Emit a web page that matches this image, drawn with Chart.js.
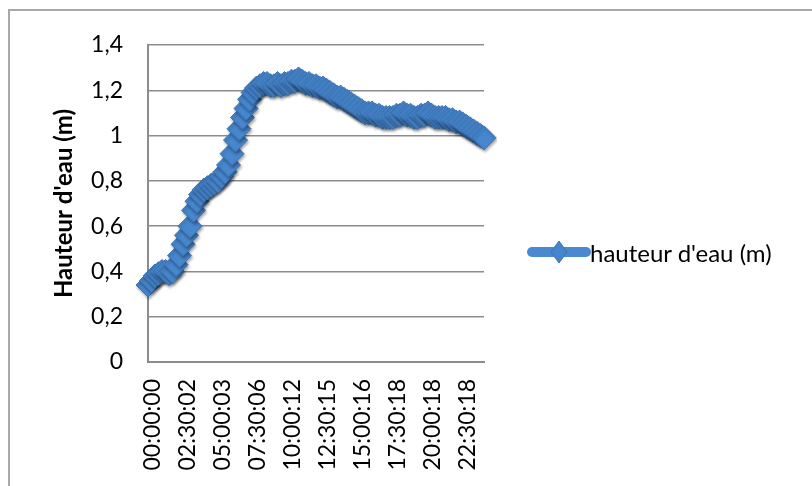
<!DOCTYPE html>
<html>
<head>
<meta charset="utf-8">
<script src="https://cdn.jsdelivr.net/npm/chart.js@4/dist/chart.umd.min.js"></script>
<style>
  html, body { margin: 0; padding: 0; width: 812px; height: 486px; overflow: hidden; background: #fff; }
  #frame { position: absolute; left: 8px; top: 9px; width: 900px; height: 600px; border: 2px solid #a9a9a9; box-sizing: border-box; }
  #wrap { position: absolute; left: 0; top: 0; width: 812px; height: 486px; }
  #legend { position: absolute; left: 522px; top: 236px; height: 32px; display: flex; align-items: center; font-family: Lato, "Open Sans", sans-serif; font-size: 24px; color: #000; white-space: nowrap; }
  #legend svg { display: block; margin-right: -2px; }
</style>
</head>
<body>
<div id="frame"></div>
<div id="wrap"><canvas id="c" width="812" height="486"></canvas></div>
<div id="legend">
  <svg width="70" height="32" viewBox="0 0 70 32">
    <line x1="10" y1="16" x2="64" y2="16" stroke="#4A89D0" stroke-width="10" stroke-linecap="round"/>
    <polygon points="37,5 45,16 37,27 29,16" fill="#4585CC" stroke="#3C72B4" stroke-width="1"/>
  </svg>
  <span>hauteur d'eau (m)</span>
</div>
<script>
const seriesName = "hauteur d'eau (m)";
const yAxisTitle = "Hauteur d'eau (m)";
const timeLabels = [
  "00:00:00","00:15:00","00:30:00","00:45:01","01:00:01","01:15:01","01:30:01","01:45:02","02:00:02","02:15:02",
  "02:30:02","02:45:02","03:00:02","03:15:02","03:30:02","03:45:03","04:00:03","04:15:03","04:30:03","04:45:03",
  "05:00:03","05:15:03","05:30:04","05:45:04","06:00:04","06:15:04","06:30:05","06:45:05","07:00:05","07:15:06",
  "07:30:06","07:45:06","08:00:07","08:15:07","08:30:08","08:45:08","09:00:09","09:15:10","09:30:10","09:45:11",
  "10:00:12","10:15:12","10:30:12","10:45:13","11:00:13","11:15:13","11:30:14","11:45:14","12:00:14","12:15:15",
  "12:30:15","12:45:15","13:00:15","13:15:15","13:30:15","13:45:16","14:00:16","14:15:16","14:30:16","14:45:16",
  "15:00:16","15:15:16","15:30:17","15:45:17","16:00:17","16:15:17","16:30:17","16:45:17","17:00:18","17:15:18",
  "17:30:18","17:45:18","18:00:18","18:15:18","18:30:18","18:45:18","19:00:18","19:15:18","19:30:18","19:45:18",
  "20:00:18","20:15:18","20:30:18","20:45:18","21:00:18","21:15:18","21:30:18","21:45:18","22:00:18","22:15:18",
  "22:30:18","22:45:18","23:00:18","23:15:18","23:30:18","23:45:18","23:59:58"
];
const waterHeight = [
  0.34,0.36,0.38,0.39,0.40,0.40,0.39,0.40,0.43,0.47,
  0.52,0.56,0.60,0.67,0.71,0.74,0.76,
  0.77,0.78,0.79,0.80,0.82,0.84,0.87,0.92,
  0.98,1.03,1.08,1.12,1.16,1.19,1.21,
  1.22,1.23,1.23,1.22,1.22,1.23,1.22,1.23,1.23,
  1.24,1.24,1.25,1.24,1.23,1.23,1.22,1.22,1.21,
  1.21,1.20,1.19,1.18,1.17,1.17,1.16,1.15,1.14,1.13,
  1.12,1.11,1.10,1.10,1.10,1.09,1.09,1.08,1.08,1.08,
  1.08,1.09,1.09,1.10,1.09,1.09,1.08,1.08,1.09,1.09,
  1.10,1.09,1.08,1.08,1.08,1.08,
  1.07,1.07,1.06,1.06,1.05,1.04,1.03,1.02,1.01,1.00,0.99
];
const yTickValues = [0, 0.2, 0.4, 0.6, 0.8, 1, 1.2, 1.4];
const labelEvery = 10;

const shadowPlugin = {
  id: 'markerShadow',
  beforeDatasetsDraw(chart) {
    const ctx = chart.ctx;
    ctx.save();
    ctx.shadowColor = 'rgba(0,0,0,0.35)';
    ctx.shadowBlur = 3;
    ctx.shadowOffsetX = 1;
    ctx.shadowOffsetY = 2;
  },
  afterDatasetsDraw(chart) { chart.ctx.restore(); }
};

const fontFamily = 'Lato, "Open Sans", sans-serif';

new Chart(document.getElementById('c'), {
  type: 'line',
  data: {
    labels: timeLabels,
    datasets: [{
      label: seriesName,
      data: waterHeight,
      borderColor: '#4A89D0',
      borderWidth: 10,
      tension: 0,
      pointStyle: 'rectRot',
      pointRadius: 12,
      pointBackgroundColor: '#4787CE',
      pointBorderColor: '#3B73B6',
      pointBorderWidth: 1
    }]
  },
  plugins: [shadowPlugin],
  options: {
    responsive: false,
    animation: false,
    events: [],
    layout: { padding: { left: 0, right: 328, top: 45, bottom: 0 } },
    plugins: { legend: { display: false }, tooltip: { enabled: false } },
    scales: {
      x: {
        type: 'category',
        offset: false,
        afterFit(s) { s.height = 124; },
        grid: { display: false, drawTicks: false },
        border: { display: true, color: '#8c8c8c', width: 2 },
        ticks: {
          autoSkip: false,
          minRotation: 90,
          maxRotation: 90,
          padding: 17,
          labelOffset: 5,
          color: '#000',
          font: { family: fontFamily, size: 23 },
          callback(v, i) { return i % labelEvery === 0 ? timeLabels[i] : ''; }
        }
      },
      y: {
        min: 0,
        max: 1.4,
        afterFit(s) { s.width = 148; },
        afterBuildTicks(s) { s.ticks = yTickValues.map(v => ({ value: v })); },
        grid: { color: '#8c8c8c', lineWidth: 1.5, drawTicks: false },
        border: { display: true, color: '#8c8c8c', width: 2 },
        ticks: {
          padding: 25,
          color: '#000',
          font: { family: fontFamily, size: 23 },
          callback(v) { return String(Math.round(v * 10) / 10).replace('.', ','); }
        },
        title: {
          display: true,
          text: yAxisTitle,
          color: '#000',
          font: { family: fontFamily, size: 24, weight: 'bold', lineHeight: 1.2 },
          padding: { top: 50, bottom: 0 }
        }
      }
    }
  }
});
</script>
</body>
</html>
